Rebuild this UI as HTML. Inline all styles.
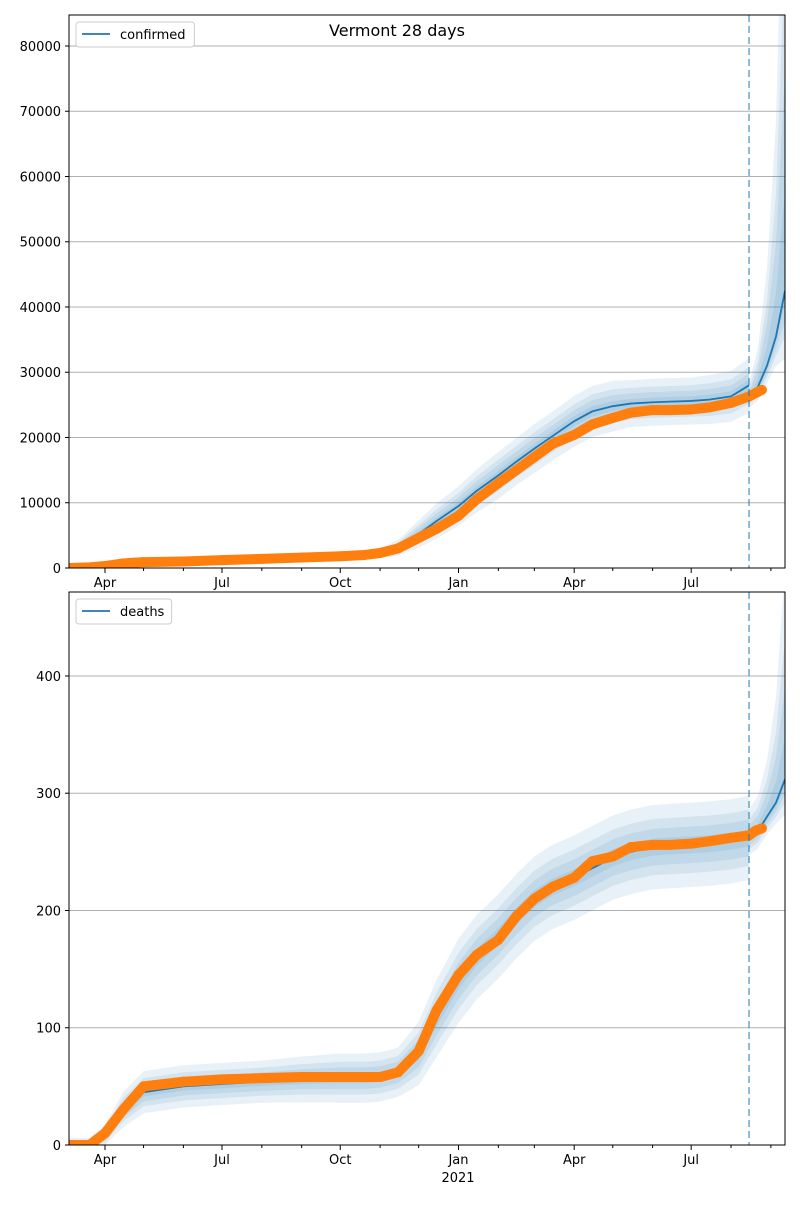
<!DOCTYPE html>
<html><head><meta charset="utf-8"><style>
body{margin:0;background:#fff;font-family:"Liberation Sans","DejaVu Sans",sans-serif}
svg text{font-family:"DejaVu Sans","Liberation Sans",sans-serif;font-size:13px;fill:#000}
</style></head><body>
<svg id="c" width="800" height="1200"></svg>
<script>
const dates=["2020-03-04","2020-03-20","2020-04-01","2020-04-15","2020-05-01","2020-06-01","2020-07-01","2020-08-01","2020-09-01","2020-10-01","2020-10-20","2020-11-01","2020-11-15","2020-12-01","2020-12-15","2021-01-01","2021-01-15","2021-02-01","2021-02-15","2021-03-01","2021-03-15","2021-04-01","2021-04-15","2021-05-01","2021-05-15","2021-06-01","2021-06-15","2021-07-01","2021-07-15","2021-08-01","2021-08-15"];
const confObs=[0,100,300,700,900,1000,1200,1400,1600,1800,2000,2300,3000,4600,6000,8000,10500,13000,15000,17000,19000,20400,22000,23000,23800,24200,24200,24300,24600,25300,26300];
const confModel=[0,100,300,700,900,1000,1200,1400,1600,1800,2000,2300,3100,5200,7200,9500,11800,14200,16300,18300,20200,22500,24000,24800,25200,25400,25500,25600,25800,26300,28000];
const confSd=[30,40,60,80,100,120,140,160,180,200,220,260,400,700,900,1000,1100,1200,1200,1250,1250,1300,1300,1300,1200,1200,1200,1200,1250,1300,1400];
const deathObs=[0,0,10,30,50,54,56,57,58,58,58,58,62,80,115,145,162,175,195,210,220,228,242,246,254,256,256,257,259,262,264];
const deathModel=[0,0,8,30,45,50,52,54,56,57,57,58,62,78,108,140,160,178,195,210,220,228,236,245,250,254,255,256,257,259,262];
const deathSd=[2,2,3,5,6,6,6,6,6.5,7,7,7,7,9,11,12,12,12,12,12,12,12,12,12,12,12,12,12,12,12,12];
const fcDates=["2021-08-15","2021-08-22","2021-08-29","2021-09-05","2021-09-12"];
const confFc=[26000,27800,31000,35500,42500];
const confFcSdHi=[800,2000,5000,11000,26000];
const confFcSdLo=[500,700,900,1500,3500];
const deathFc=[262,268,280,292,312];
const deathFcSdHi=[8,10,16,30,60];
const deathFcSdLo=[5,5,5,6,10];
const extraObsDates=["2021-08-20","2021-08-25"];
const confExtra=[26800,27300];
const deathExtra=[268,270];
const confTicks=[0,10000,20000,30000,40000,50000,60000,70000,80000];
const deathTicks=[0,100,200,300,400];
const monthTicks=["2020-04-01","2020-05-01","2020-06-01","2020-07-01","2020-08-01","2020-09-01","2020-10-01","2020-11-01","2020-12-01","2021-01-01","2021-02-01","2021-03-01","2021-04-01","2021-05-01","2021-06-01","2021-07-01","2021-08-01","2021-09-01"];
const majorLabels={"2020-04-01":"Apr","2020-07-01":"Jul","2020-10-01":"Oct","2021-01-01":"Jan","2021-04-01":"Apr","2021-07-01":"Jul"};
const svg=document.getElementById('c');const NS="http://www.w3.org/2000/svg";
const d0=Date.UTC(2020,2,4);
function day(s){const p=s.split('-');return (Date.UTC(+p[0],p[1]-1,+p[2])-d0)/864e5;}
const X0=69,X1=785,PX=1.2855;
function xs(s){return X0+day(s)*PX;}
function el(t,a,p){const e=document.createElementNS(NS,t);for(const k in a)e.setAttribute(k,a[k]);(p||svg).appendChild(e);return e;}
function panel(top,bot,ymax,ticks,obs,model,sd,fc,fcHi,fcLo,extra,label,name){
  const ys=v=>bot-(v/ymax)*(bot-top);
  const g=el('g',{});
  const cid='clip'+name;const cp=el('clipPath',{id:cid},g);el('rect',{x:X0,y:top,width:X1-X0,height:bot-top},cp);
  ticks.forEach(t=>{if(t>0){const l=el('line',{x1:X0,x2:X1,y1:ys(t),y2:ys(t),stroke:'#b0b0b0','stroke-width':1},g);}
    el('line',{x1:X0-4,x2:X0,y1:ys(t),y2:ys(t),stroke:'#000'},g);
    const tx=el('text',{x:X0-8,y:ys(t)+5,'text-anchor':'end'},g);tx.textContent=t;});
  const cg=el('g',{'clip-path':'url(#'+cid+')'},g);
  function band(ds,m,hi,lo,k){let pts=ds.map((d,i)=>xs(d)+','+ys(m[i]+k*hi[i]));let lw=ds.map((d,i)=>xs(d)+','+ys(Math.max(0,m[i]-k*lo[i]))).reverse();
    const p=el('polygon',{points:pts.concat(lw).join(' '),fill:'#1f77b4','fill-opacity':0.1},cg);}
  [3,2,1.3,0.6].forEach(k=>{band(dates,model,sd,sd,k);band(fcDates,fc,fcHi,fcLo,k);});
  const mk=(ds,v)=>ds.map((d,i)=>xs(d)+','+ys(v[i])).join(' ');
  let l=el('polyline',{points:mk(dates,model),fill:'none',stroke:'#1f77b4','stroke-width':1.8},cg);
  l=el('polyline',{points:mk(fcDates,fc),fill:'none',stroke:'#1f77b4','stroke-width':1.8},cg);
  const od=dates.concat(extraObsDates),ov=obs.concat(extra);
  l=el('polyline',{points:mk(od,ov),fill:'none',stroke:'#ff7f0e','stroke-width':10,'stroke-linejoin':'round','stroke-linecap':'round'},cg);
  od.forEach((d,i)=>{const c=el('circle',{cx:xs(d),cy:ys(ov[i]),r:5,fill:'#ff7f0e'},cg);});
  const dl=el('line',{x1:xs("2021-08-15"),x2:xs("2021-08-15"),y1:top,y2:bot,stroke:'#1f77b4','stroke-opacity':0.55,'stroke-width':1.8,'stroke-dasharray':'7,4'},g);
  const fr=el('rect',{x:X0,y:top,width:X1-X0,height:bot-top,fill:'none',stroke:'#000','stroke-width':1},g);
  monthTicks.forEach(m=>{const x=xs(m);const maj=majorLabels[m];el('line',{x1:x,x2:x,y1:bot,y2:bot+(maj?5:3),stroke:'#000'},g);
    if(maj){const t=el('text',{x:x,y:bot+19,'text-anchor':'middle'},g);t.textContent=maj;}});
  const lg=el('g',{},g);
  const w=label.length*7.6+50;
  el('rect',{x:76,y:top+7,width:w,height:25,rx:3,fill:'#fff',stroke:'#ccc'},lg);
  el('line',{x1:82,x2:110,y1:top+19,y2:top+19,stroke:'#1f77b4','stroke-width':1.8},lg);
  const lt=el('text',{x:120,y:top+24},lg);lt.textContent=label;
}
panel(15,568,84750,confTicks,confObs,confModel,confSd,confFc,confFcSdHi,confFcSdLo,confExtra,'confirmed','confirmed');
panel(592,1145,471.6,deathTicks,deathObs,deathModel,deathSd,deathFc,deathFcSdHi,deathFcSdLo,deathExtra,'deaths','deaths');
const t=el('text',{x:397,y:36,'text-anchor':'middle',style:'font-size:16px'});t.textContent='Vermont 28 days';


const yr=el('text',{x:458,y:1182,'text-anchor':'middle'});yr.textContent='2021';


</script>
</body></html>
